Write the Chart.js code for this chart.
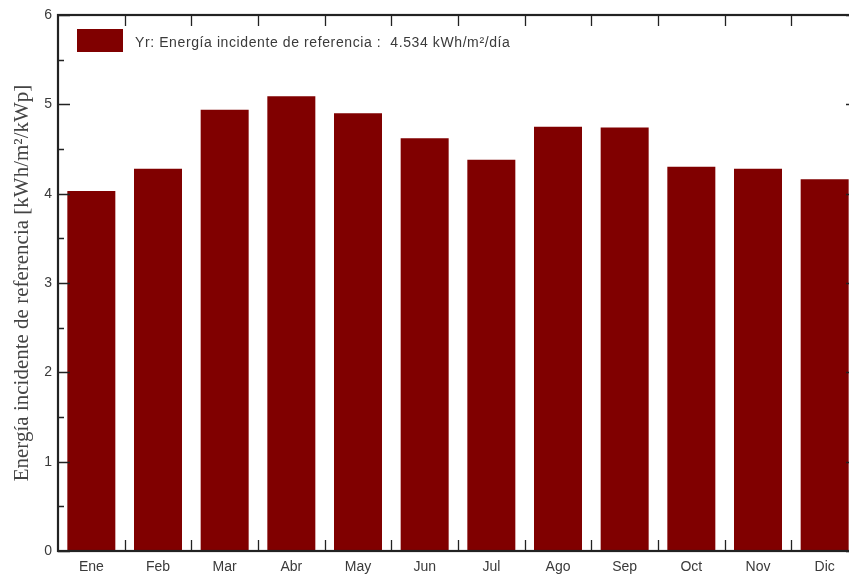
<!DOCTYPE html>
<html lang="es">
<head>
  <meta charset="UTF-8" />
  <title>Energía incidente de referencia</title>
  <script src="https://cdn.jsdelivr.net/npm/chart.js"></script>
  <style>
    * { margin: 0; padding: 0; box-sizing: border-box; }
    body { background: #fff; overflow: hidden; width: 849px; height: 577px; }
    .chart-box { width: 858px; height: 577px; position: relative; }
  </style>
</head>
<body>
  <div class="chart-box">
    <canvas id="yrChart"></canvas>
  </div>

  <script>
    const meses = ['Ene', 'Feb', 'Mar', 'Abr', 'May', 'Jun', 'Jul', 'Ago', 'Sep', 'Oct', 'Nov', 'Dic'];
    const yr = [4.03, 4.28, 4.94, 5.09, 4.90, 4.62, 4.38, 4.75, 4.74, 4.30, 4.28, 4.16];
    const yTicks = [0, 1, 2, 3, 4, 5, 6];
    const leyenda = 'Yr: Energía incidente de referencia :  4.534 kWh/m²/día';

    const barColor = '#800000';
    const sans = '"Liberation Sans", Arial, sans-serif';

    // marco, marcas hacia dentro y leyenda dentro del área
    const frame = {
      id: 'frame',
      afterDraw(chart) {
        const { ctx, chartArea: a, scales: { x, y } } = chart;
        ctx.save();
        ctx.strokeStyle = '#222';
        ctx.lineWidth = 1.3;
        ctx.beginPath();
        for (let i = 1; i < meses.length; i++) {
          const px = Math.round((x.getPixelForValue(i - 1) + x.getPixelForValue(i)) / 2) + 0.5;
          ctx.moveTo(px, a.top); ctx.lineTo(px, a.top + 11);
          ctx.moveTo(px, a.bottom); ctx.lineTo(px, a.bottom - 11);
        }
        for (let v = yTicks[0]; v <= yTicks[yTicks.length - 1]; v += 0.5) {
          const py = Math.round(y.getPixelForValue(v)) + 0.5;
          const len = v % 1 === 0 ? 12 : 6;
          ctx.moveTo(a.left, py); ctx.lineTo(a.left + len, py);
          ctx.moveTo(a.right, py); ctx.lineTo(a.right - len, py);
        }
        ctx.stroke();

        ctx.lineWidth = 2.2;
        ctx.strokeRect(a.left, a.top, a.right - a.left, a.bottom - a.top);

        // leyenda
        ctx.fillStyle = barColor;
        ctx.fillRect(a.left + 19, a.top + 14, 46, 23);
        ctx.fillStyle = '#3a3a3a';
        ctx.font = '14px ' + sans;
        ctx.letterSpacing = '0.6px';
        ctx.textBaseline = 'middle';
        ctx.fillText(leyenda, a.left + 77, a.top + 28);
        ctx.restore();
      }
    };

    new Chart(document.getElementById('yrChart'), {
      type: 'bar',
      data: {
        labels: meses,
        datasets: [{
          label: 'Yr',
          data: yr,
          backgroundColor: barColor,
          barPercentage: 0.72,
          categoryPercentage: 1
        }]
      },
      options: {
        responsive: true,
        maintainAspectRatio: false,
        animation: false,
        layout: { padding: { top: 15, right: 0, left: 0, bottom: 0 } },
        plugins: {
          legend: { display: false },
          tooltip: { enabled: false }
        },
        scales: {
          x: {
            grid: { display: false, drawTicks: false },
            border: { display: false },
            ticks: {
              color: '#3a3a3a',
              padding: 8,
              font: { family: sans, size: 14 }
            },
            afterFit(scale) { scale.height = 26; }
          },
          y: {
            min: 0,
            max: 6,
            grid: { display: false, drawTicks: false },
            border: { display: false },
            afterBuildTicks(scale) { scale.ticks = yTicks.map(v => ({ value: v })); },
            ticks: {
              color: '#3a3a3a',
              padding: 6,
              font: { family: sans, size: 14 }
            },
            title: {
              display: true,
              text: 'Energía incidente de referencia [kWh/m²/kWp]',
              color: '#444',
              padding: { top: 10, bottom: 0 },
              font: { family: '"Liberation Serif", "Times New Roman", serif', size: 21 }
            },
            afterFit(scale) { scale.width = 58; }
          }
        }
      },
      plugins: [frame]
    });
  </script>
</body>
</html>
